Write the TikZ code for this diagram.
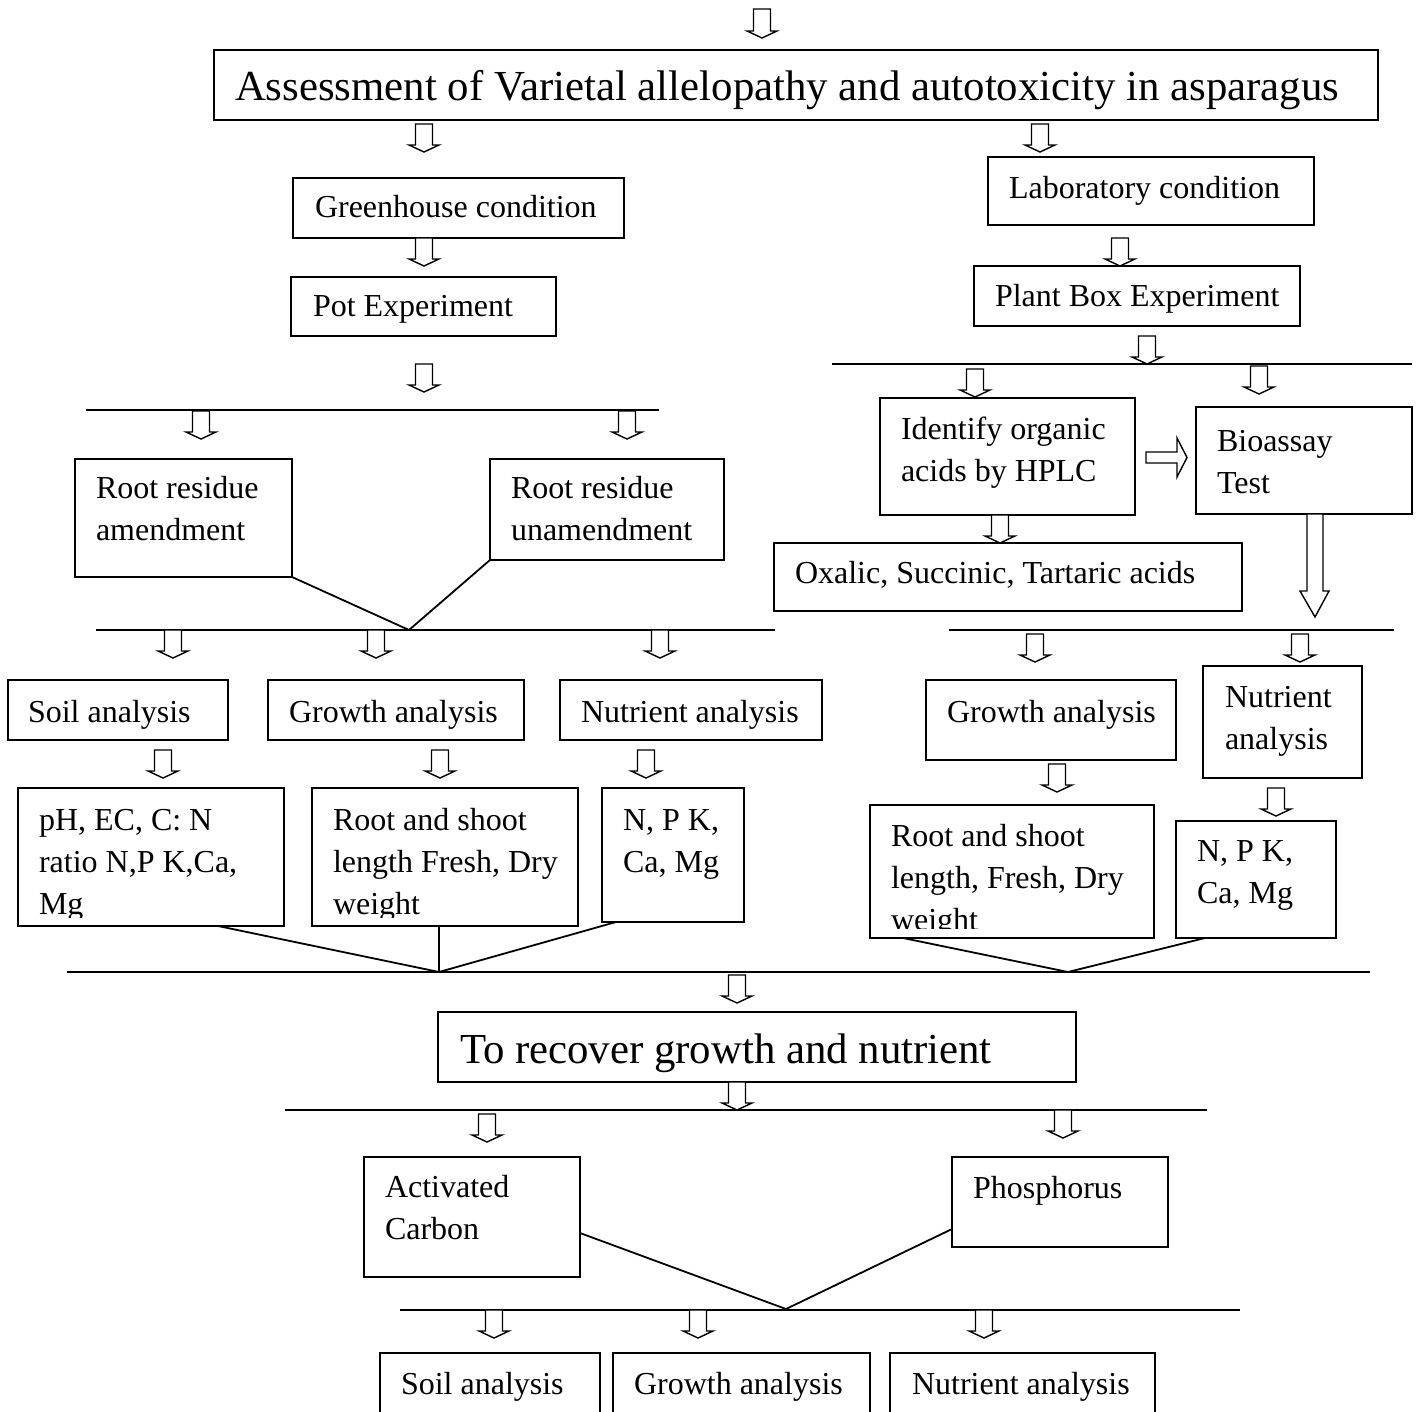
\documentclass[tikz,border=0pt]{standalone}
\usepackage{fontspec}
\setmainfont{Liberation Serif}
\usetikzlibrary{calc}
\newcommand\ml[1]{\begin{tabular}[t]{@{}l@{}}#1\end{tabular}}
\newcommand\mkbox[5]{\node[box, minimum width={(#4)-(#2)}, minimum height={(#5)-(#3)}] (#1) at (#2,#3) {};}
\newcommand\darr[3]{\draw[harrow] ({#1-8.5},#2) -- ({#1+8.5},#2) -- ({#1+8.5},{#3-7}) -- ({#1+15},{#3-7}) -- (#1,#3) -- ({#1-15},{#3-7}) -- ({#1-8.5},{#3-7}) -- cycle;}
\begin{document}
\begin{tikzpicture}[x=1pt,y=-1pt,
  box/.style={draw, line width=1.8pt, inner sep=0pt, outer sep=0pt, anchor=north west, fill=white},
  txt/.style={inner sep=0pt, outer sep=0pt, anchor=base west, font=\fontsize{32}{42}\selectfont},
  bigtxt/.style={inner sep=0pt, outer sep=0pt, anchor=base west, font=\fontsize{42.8}{50}\selectfont},
  rule/.style={line width=1.8pt},
  harrow/.style={draw, line width=1.4pt, fill=white, line join=miter}]
\useasboundingbox (0,0) rectangle (1421,1412);
\clip (0,0) rectangle (1421,1412);
\fill[white] (0,0) rectangle (1421,1412);

% ---------- horizontal bars ----------
\coordinate (b1l) at (86,410);   \coordinate (b1r) at (659,410);
\coordinate (b2l) at (832,364);  \coordinate (b2r) at (1412,364);
\coordinate (b3l) at (96,630);   \coordinate (b3r) at (775,630);
\coordinate (b4l) at (949,630);  \coordinate (b4r) at (1394,630);
\coordinate (b5l) at (67,972);   \coordinate (b5r) at (1370,972);
\coordinate (b6l) at (285,1110); \coordinate (b6r) at (1207,1110);
\coordinate (b7l) at (400,1310); \coordinate (b7r) at (1240,1310);
\foreach \a/\b in {b1l/b1r,b2l/b2r,b3l/b3r,b4l/b4r,b5l/b5r,b6l/b6r,b7l/b7r}
  \draw[rule] (\a) -- (\b);

% ---------- boxes ----------
\mkbox{main}{214}{50}{1378}{120}
\mkbox{gh}{293}{178}{624}{238}
\mkbox{pot}{291}{277}{556}{336}
\mkbox{lab}{988}{157}{1314}{225}
\mkbox{pbox}{974}{266}{1300}{326}
\mkbox{ra}{75}{459}{292}{577}
\mkbox{ru}{490}{459}{724}{560}
\mkbox{hplc}{880}{398}{1135}{515}
\mkbox{bio}{1196}{407}{1412}{514}
\mkbox{oxa}{774}{543}{1242}{611}
\mkbox{soila}{8}{680}{228}{740}
\mkbox{growa}{268}{680}{524}{740}
\mkbox{nuta}{560}{680}{822}{740}
\mkbox{pha}{18}{788}{284}{926}
\mkbox{rsa}{312}{788}{578}{926}
\mkbox{npka}{602}{788}{744}{922}
\mkbox{growb}{926}{680}{1176}{760}
\mkbox{nutb}{1203}{666}{1362}{778}
\mkbox{rsb}{870}{805}{1154}{938}
\mkbox{npkb}{1176}{821}{1336}{938}
\mkbox{rec}{438}{1012}{1076}{1082}
\mkbox{ac}{364}{1157}{580}{1277}
\mkbox{phos}{952}{1157}{1168}{1247}
\mkbox{soilc}{380}{1353}{600}{1440}
\mkbox{growc}{613}{1353}{870}{1440}
\mkbox{nutc}{890}{1353}{1155}{1440}

% ---------- texts ----------
\node[bigtxt] (t-main) at (235,101) {Assessment of Varietal allelopathy and autotoxicity in asparagus};
\node[txt] (t-gh) at (315,218) {Greenhouse condition};
\node[txt] (t-pot) at (313,317) {Pot Experiment};
\node[txt] (t-lab) at (1009,199) {Laboratory condition};
\node[txt] (t-pbox) at (995,307) {Plant Box Experiment};
\node[txt] (t-ra) at (96,498) {\ml{Root residue\\amendment}};
\node[txt] (t-ru) at (511,498) {\ml{Root residue\\unamendment}};
\node[txt] (t-hplc) at (901,439) {\ml{Identify organic\\acids by HPLC}};
\node[txt] (t-bio) at (1217,451) {\ml{Bioassay\\Test}};
\node[txt] (t-oxa) at (795,583) {Oxalic, Succinic, Tartaric acids};
\node[txt] (t-soila) at (28,722) {Soil analysis};
\node[txt] (t-growa) at (289,722) {Growth analysis};
\node[txt] (t-nuta) at (581,722) {Nutrient analysis};
\begin{scope}
  \clip (18,788) rectangle (284,917);
  \node[txt] (t-pha) at (39,830) {\ml{pH, EC, C: N\\ratio N,P K,Ca,\\Mg}};
\end{scope}
\begin{scope}
  \clip (312,788) rectangle (578,917);
  \node[txt] (t-rsa) at (333,830) {\ml{Root and shoot\\length Fresh, Dry\\weight}};
\end{scope}
\node[txt] (t-npka) at (623,830) {\ml{N, P K,\\Ca, Mg}};
\node[txt] (t-growb) at (947,722) {Growth analysis};
\node[txt] (t-nutb) at (1225,707) {\ml{Nutrient\\analysis}};
\begin{scope}
  \clip (870,805) rectangle (1154,928);
  \node[txt] (t-rsb) at (891,846) {\ml{Root and shoot\\length, Fresh, Dry\\weight}};
\end{scope}
\node[txt] (t-npkb) at (1197,861) {\ml{N, P K,\\Ca, Mg}};
\node[bigtxt] (t-rec) at (460,1063) {To recover growth and nutrient};
\node[txt] (t-ac) at (385,1197) {\ml{Activated\\Carbon}};
\node[txt] (t-phos) at (973,1198) {Phosphorus};
\node[txt] (t-soilc) at (401,1394) {Soil analysis};
\node[txt] (t-growc) at (634,1394) {Growth analysis};
\node[txt] (t-nutc) at (912,1394) {Nutrient analysis};

% ---------- joining lines ----------
\coordinate (j1) at (409,630);
\draw[rule] (ra.south east) -- (j1);
\draw[rule] (ru.south west) -- (j1);
\coordinate (j2) at (439,972);
\draw[rule] ($(pha.south west)+(200,0)$) -- (j2);
\draw[rule] ($(rsa.south west)+(127,0)$) -- (j2);
\draw[rule] ($(npka.south west)+(14,0)$) -- (j2);
\coordinate (j3) at (1068,972);
\draw[rule] ($(rsb.south west)+(33,0)$) -- (j3);
\draw[rule] ($(npkb.south west)+(29,0)$) -- (j3);
\coordinate (j4) at (786,1309);
\draw[rule] ($(ac.north east)+(0,76)$) -- (j4);
\draw[rule] ($(phos.north west)+(0,72)$) -- (j4);

% ---------- hollow arrows ----------
\darr{762}{9}{38}
\darr{424}{124}{152}
\darr{1040}{124}{152}
\darr{424}{238}{266}
\darr{1120}{238}{266}
\darr{424}{364}{392}
\darr{1147}{336}{364}
\darr{201}{411}{439}
\darr{627}{411}{439}
\darr{975}{369}{397}
\darr{1259}{366}{394}
\darr{1000}{515}{543}
\darr{173}{630}{658}
\darr{376}{630}{658}
\darr{660}{630}{658}
\darr{163}{750}{778}
\darr{440}{750}{778}
\darr{646}{750}{778}
\darr{1035}{634}{662}
\darr{1300}{634}{662}
\darr{1057}{764}{792}
\darr{1276}{788}{816}
\darr{737}{975}{1003}
\darr{737}{1082}{1110}
\darr{487}{1114}{1142}
\darr{1063}{1110}{1138}
\darr{494}{1310}{1338}
\darr{698}{1310}{1338}
\darr{984}{1310}{1338}
% right arrow HPLC -> Bioassay
\draw[harrow] (hplc.east |- 0,452) ++(11,0) -- (1177,452) -- (1177,438) -- (1187,457.5) -- (1177,477) -- (1177,463) -- (1146,463) -- cycle;
% big arrow from Bioassay
\draw[harrow] (1307,514) -- (1323,514) -- (1323,591) -- (1329,591) -- (1315,617) -- (1300,591) -- (1307,591) -- cycle;
\end{tikzpicture}
\end{document}
